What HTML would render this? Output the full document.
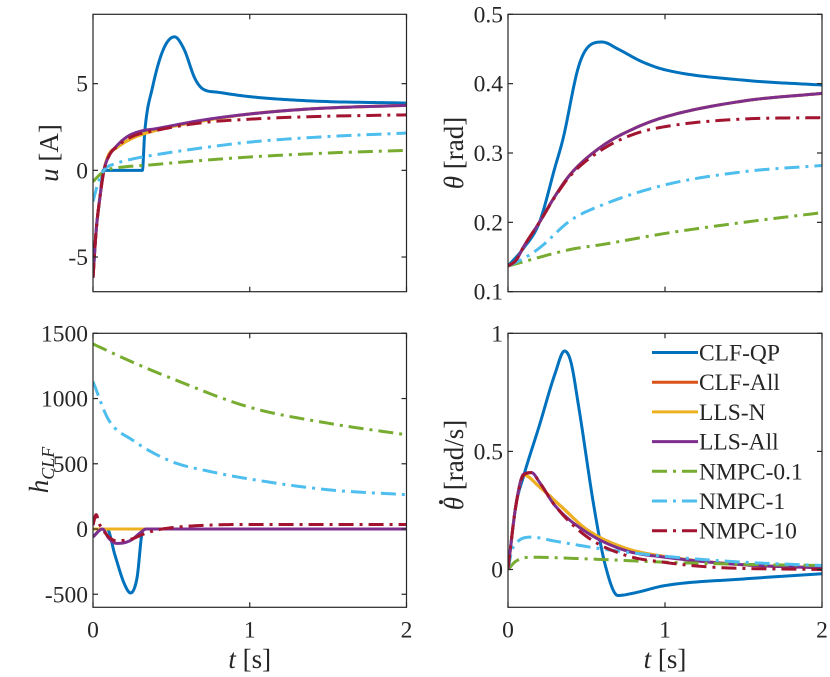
<!DOCTYPE html>
<html><head><meta charset="utf-8"><style>
html,body{margin:0;padding:0;background:#fff;}
svg{display:block;font-family:"Liberation Serif",serif;}
</style></head><body>
<svg id="fig" width="830" height="677" viewBox="0 0 830 677"></svg>
<script>
const seriesNames = ["CLF-QP","CLF-All","LLS-N","LLS-All","NMPC-0.1","NMPC-1","NMPC-10"];
const seriesColors = ["#0072BD","#D95319","#EDB120","#7E2F8E","#77AC30","#4DBEEE","#A2142F"];
const seriesDash = [false,false,false,false,true,true,true];
const xTicks = [0,1,2];

// u [A]
const uQP = [[0,-6.2],[0.02,-3.5],[0.045,-1.5],[0.066,0],[0.1,0],[0.2,0],[0.315,0],[0.33,2.2],[0.38,4.8],[0.45,7.0],[0.52,7.7],[0.58,7.0],[0.65,5.3],[0.7,4.7],[0.8,4.5],[1.0,4.25],[1.4,4.0],[2.0,3.88]];
const uCLFAll = [[0,-6.2],[0.02,-3.5],[0.045,-1.5],[0.07,0],[0.1,0.9],[0.15,1.3],[0.25,1.85],[0.4,2.3],[0.7,2.85],[1.0,3.25],[1.4,3.55],[2.0,3.75]];
const uLLSN = [[0,-6.2],[0.02,-3.5],[0.045,-1.5],[0.07,0],[0.1,0.9],[0.15,1.3],[0.25,1.85],[0.4,2.3],[0.7,2.85],[1.0,3.25],[1.4,3.55],[2.0,3.75]];
const uLLSAll = [[0,-6.2],[0.02,-3.5],[0.045,-1.5],[0.07,0],[0.1,0.8],[0.15,1.4],[0.22,1.95],[0.3,2.25],[0.4,2.4],[0.7,2.9],[1.0,3.25],[1.4,3.55],[2.0,3.75]];
const uN01 = [[0,-0.65],[0.05,-0.2],[0.1,0.05],[0.2,0.2],[0.35,0.3],[0.6,0.5],[1.0,0.77],[1.5,1.0],[2.0,1.15]];
const uN1 = [[0,-1.8],[0.03,-0.8],[0.07,0],[0.15,0.4],[0.25,0.65],[0.4,0.9],[0.7,1.3],[1.0,1.63],[1.5,1.95],[2.0,2.15]];
const uN10 = [[0,-6.2],[0.02,-3.5],[0.045,-1.5],[0.07,0],[0.1,0.8],[0.15,1.35],[0.25,1.95],[0.4,2.3],[0.7,2.75],[1.0,2.95],[1.4,3.1],[2.0,3.2]];
const uTicks = [-5,0,5];

// theta [rad]
const thQP = [[0,0.137],[0.1,0.163],[0.2,0.2],[0.3,0.28],[0.35,0.32],[0.45,0.425],[0.52,0.455],[0.6,0.46],[0.7,0.45],[0.85,0.432],[1.0,0.42],[1.5,0.405],[2.0,0.398]];
const thCLFAll = [[0,0.137],[0.05,0.145],[0.1,0.165],[0.2,0.2],[0.3,0.238],[0.4,0.27],[0.6,0.31],[0.8,0.335],[1.0,0.352],[1.5,0.375],[2.0,0.386]];
const thLLSN = [[0,0.137],[0.05,0.145],[0.1,0.165],[0.2,0.2],[0.3,0.238],[0.4,0.27],[0.6,0.31],[0.8,0.335],[1.0,0.352],[1.5,0.375],[2.0,0.386]];
const thLLSAll = [[0,0.137],[0.05,0.145],[0.1,0.165],[0.2,0.2],[0.3,0.238],[0.4,0.27],[0.6,0.31],[0.8,0.335],[1.0,0.352],[1.5,0.375],[2.0,0.386]];
const thN01 = [[0,0.137],[0.4,0.161],[0.6,0.168],[1.0,0.184],[1.5,0.2],[2.0,0.214]];
const thN1 = [[0,0.137],[0.1,0.148],[0.2,0.163],[0.4,0.203],[0.6,0.225],[1.0,0.254],[1.5,0.273],[2.0,0.282]];
const thN10 = [[0,0.137],[0.05,0.145],[0.1,0.165],[0.2,0.2],[0.3,0.237],[0.4,0.268],[0.6,0.305],[0.8,0.327],[1.0,0.338],[1.5,0.349],[2.0,0.351]];
const thTicks = [0.1,0.2,0.3,0.4,0.5];

// h_CLF
const hQP = [[0,-60],[0.06,0],[0.09,0],[0.14,-200],[0.2,-420],[0.24,-490],[0.28,-380],[0.32,0],[2,0]];
const hCLFAll = [[0,0],[2,0]];
const hLLSN = [[0,0],[2,0]];
const hLLSAll = [[0,-60],[0.06,0],[0.1,-70],[0.15,-110],[0.2,-105],[0.25,-80],[0.3,-30],[0.34,0],[2,0]];
const hN01 = [[0,1418],[0.25,1280],[0.5,1155],[1.0,933],[1.5,811],[2.0,722]];
const hN1 = [[0,1130],[0.1,836],[0.25,683],[0.5,518],[0.75,440],[1.0,383],[1.5,301],[2.0,263]];
const hN10 = [[0,30],[0.02,110],[0.04,40],[0.06,0],[0.1,-60],[0.15,-90],[0.25,-75],[0.32,-40],[0.4,-10],[0.5,10],[0.7,28],[1.0,35],[2.0,35]];
const hTicks = [-500,0,500,1000,1500];

// theta dot
const dQP = [[0,0],[0.05,0.27],[0.1,0.397],[0.2,0.61],[0.3,0.83],[0.36,0.925],[0.4,0.88],[0.45,0.69],[0.55,0.256],[0.62,0.017],[0.7,-0.11],[0.8,-0.1],[1.0,-0.068],[1.5,-0.04],[2.0,-0.018]];
const dCLFAll = [[0,0],[0.05,0.27],[0.1,0.4],[0.2,0.35],[0.35,0.26],[0.5,0.17],[0.75,0.09],[1.0,0.055],[1.5,0.02],[2.0,0.008]];
const dLLSN = [[0,0],[0.05,0.27],[0.1,0.4],[0.2,0.35],[0.35,0.26],[0.5,0.17],[0.75,0.09],[1.0,0.055],[1.5,0.02],[2.0,0.008]];
const dLLSAll = [[0,0],[0.05,0.27],[0.1,0.404],[0.15,0.41],[0.2,0.37],[0.3,0.27],[0.5,0.158],[0.75,0.08],[1.0,0.052],[1.5,0.02],[2.0,0.007]];
const dN01 = [[0,0],[0.05,0.035],[0.15,0.052],[0.5,0.045],[1.0,0.031],[1.5,0.022],[2.0,0.017]];
const dN1 = [[0,0],[0.03,0.09],[0.15,0.137],[0.3,0.12],[0.6,0.087],[1.0,0.056],[1.5,0.031],[2.0,0.017]];
const dN10 = [[0,0],[0.05,0.27],[0.1,0.4],[0.15,0.41],[0.2,0.37],[0.3,0.27],[0.5,0.14],[0.75,0.06],[1.0,0.03],[1.3,0.01],[2.0,0.0]];
const dTicks = [0,0.5,1];

const NS = "http://www.w3.org/2000/svg";
const svg = document.getElementById("fig");
const DASH = "15 6 3 6";
function mk(tag, attrs, parent){
  const e = document.createElementNS(NS, tag);
  for (const k in attrs) e.setAttribute(k, attrs[k]);
  (parent||svg).appendChild(e);
  return e;
}
function monotone(pts){
  const n=pts.length, xs=pts.map(p=>p[0]), ys=pts.map(p=>p[1]);
  const d=[], m=new Array(n).fill(0);
  for(let i=0;i<n-1;i++) d.push((ys[i+1]-ys[i])/(xs[i+1]-xs[i]));
  if(n===2){m[0]=m[1]=d[0];}
  else{
    m[0]=d[0]; m[n-1]=d[n-2];
    for(let i=1;i<n-1;i++){ m[i]=(d[i-1]*d[i]<=0)?0:(d[i-1]+d[i])/2; }
    for(let i=0;i<n-1;i++){
      if(d[i]===0){m[i]=0;m[i+1]=0;continue;}
      const a=m[i]/d[i], b=m[i+1]/d[i], s=a*a+b*b;
      if(s>9){const t=3/Math.sqrt(s); m[i]=t*a*d[i]; m[i+1]=t*b*d[i];}
    }
  }
  const out=[];
  for(let i=0;i<n-1;i++){
    const h=xs[i+1]-xs[i], steps=20;
    for(let k=0;k<steps;k++){
      const t=k/steps, t2=t*t, t3=t2*t;
      const y=(2*t3-3*t2+1)*ys[i]+(t3-2*t2+t)*h*m[i]+(-2*t3+3*t2)*ys[i+1]+(t3-t2)*h*m[i+1];
      out.push([xs[i]+t*h,y]);
    }
  }
  out.push([xs[n-1],ys[n-1]]);
  return out;
}

const panels = [
  {id:"u", x0:93, x1:406.5, y0:14.3, y1:291.7, ymin:-7, ymax:9, ticks:uTicks, fmt:v=>String(v), data:[uQP,uCLFAll,uLLSN,uLLSAll,uN01,uN1,uN10], xt:false},
  {id:"theta", x0:508, x1:822, y0:14.3, y1:291.7, ymin:0.1, ymax:0.5, ticks:thTicks, fmt:v=>v.toFixed(1), data:[thQP,thCLFAll,thLLSN,thLLSAll,thN01,thN1,thN10], xt:false},
  {id:"hclf", x0:93, x1:406.5, y0:333.3, y1:607.3, ymin:-600, ymax:1500, ticks:hTicks, fmt:v=>String(v), data:[hQP,hCLFAll,hLLSN,hLLSAll,hN01,hN1,hN10], xt:true},
  {id:"thetadot", x0:508, x1:822, y0:333.3, y1:607.3, ymin:-0.16, ymax:1, ticks:dTicks, fmt:v=>String(v), data:[dQP,dCLFAll,dLLSN,dLLSAll,dN01,dN1,dN10], xt:true}
];

panels.forEach((p,pi)=>{
  const g = mk("g",{});
  
  
  const X = t => p.x0 + (t-0)/(2-0)*(p.x1-p.x0);
  const Y = v => p.y1 - (v-p.ymin)/(p.ymax-p.ymin)*(p.y1-p.y0);
  const cp = mk("clipPath",{id:"clip"+pi}, g);
  mk("rect",{x:p.x0,y:p.y0,width:p.x1-p.x0,height:p.y1-p.y0}, cp);
  const lines = mk("g",{"clip-path":"url(#clip"+pi+")"}, g);
  p.data.forEach((series,si)=>{
    const pts = monotone(series);
    const d = pts.map((q,i)=>(i?"L":"M")+X(q[0]).toFixed(2)+","+Y(q[1]).toFixed(2)).join("");
    const path = mk("path",{d:d, fill:"none", stroke:seriesColors[si], "stroke-width":3, "stroke-linejoin":"round"}, lines);
    if(seriesDash[si]) path.setAttribute("stroke-dasharray",DASH);
    
    
  });
  mk("rect",{x:p.x0,y:p.y0,width:p.x1-p.x0,height:p.y1-p.y0, fill:"none", stroke:"#262626","stroke-width":1.2}, g);
  p.ticks.forEach(v=>{
    const y=Y(v);
    mk("line",{x1:p.x0,y1:y,x2:p.x0+5,y2:y,stroke:"#262626","stroke-width":1.2}, g);
    mk("line",{x1:p.x1,y1:y,x2:p.x1-5,y2:y,stroke:"#262626","stroke-width":1.2}, g);
    const t = mk("text",{x:p.x0-5,y:y+8,"text-anchor":"end","font-size":23.5,fill:"#262626"}, g);
    t.textContent = p.fmt(v);
    
    
  });
  xTicks.forEach(v=>{
    const x=X(v);
    mk("line",{x1:x,y1:p.y1,x2:x,y2:p.y1-5,stroke:"#262626","stroke-width":1.2}, g);
    mk("line",{x1:x,y1:p.y0,x2:x,y2:p.y0+5,stroke:"#262626","stroke-width":1.2}, g);
    if(p.xt){
      const t = mk("text",{x:x,y:p.y1+30,"text-anchor":"middle","font-size":23.5,fill:"#262626"}, g);
      t.textContent = String(v);
      
      
    }
  });
  if(p.xt){
    const t = mk("text",{x:(p.x0+p.x1)/2,y:668,"text-anchor":"middle","font-size":27,fill:"#262626"}, g);
    t.innerHTML = '<tspan font-style="italic">t</tspan> [s]';
    
    
  }
});

function ylabel(cx, cy, html, name){
  const g = mk("g",{transform:"translate("+cx+","+cy+") rotate(-90)"});
  const t = mk("text",{x:0,y:0,"text-anchor":"middle","font-size":27,fill:"#262626"}, g);
  t.innerHTML = html;
  
  
  return {g,t};
}
ylabel(58,153,'<tspan font-style="italic">u</tspan> [A]','u-y-axis-title');
ylabel(463,153,'<tspan font-style="italic">θ</tspan> [rad]','theta-y-axis-title');
ylabel(48,470,'<tspan font-style="italic">h</tspan><tspan font-style="italic" font-size="18" dy="6">CLF</tspan>','hclf-y-axis-title');
const td = ylabel(463,465,'<tspan font-style="italic">θ</tspan> [rad/s]','thetadot-y-axis-title');
try{
  const s = td.t.getStartPositionOfChar(0), e = td.t.getEndPositionOfChar(0);
  const dot = mk("circle",{cx:(s.x+e.x)/2+1.5, cy:-22, r:2, fill:"#262626"}, td.g);
  
  
}catch(err){}

const lg = mk("g",{});


seriesNames.forEach((nm,i)=>{
  const y = 352.5 + i*29.7;
  const e = mk("g",{}, lg);
  
  
  const l = mk("line",{x1:652,y1:y,x2:698,y2:y,stroke:seriesColors[i],"stroke-width":3}, e);
  if(seriesDash[i]) l.setAttribute("stroke-dasharray",DASH);
  const t = mk("text",{x:699,y:y+8,"font-size":23.5,fill:"#262626"}, e);
  t.textContent = nm;
});
</script>
</body></html>
